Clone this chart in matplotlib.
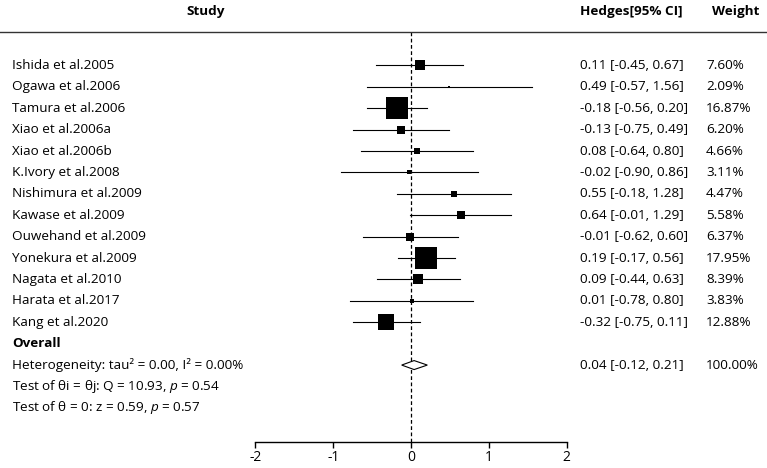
import matplotlib
matplotlib.use("Agg")
import matplotlib.pyplot as plt
from matplotlib.patches import Polygon

plt.rcParams["font.family"] = ["Open Sans", "DejaVu Sans"]
plt.rcParams["mathtext.fontset"] = "custom"
plt.rcParams["mathtext.rm"] = "Open Sans"
plt.rcParams["mathtext.it"] = "Open Sans:italic"

studies = ["Ishida et al.2005", "Ogawa et al.2006", "Tamura et al.2006", "Xiao et al.2006a",
           "Xiao et al.2006b", "K.Ivory et al.2008", "Nishimura et al.2009", "Kawase et al.2009",
           "Ouwehand et al.2009", "Yonekura et al.2009", "Nagata et al.2010", "Harata et al.2017",
           "Kang et al.2020"]
hedges = [0.11, 0.49, -0.18, -0.13, 0.08, -0.02, 0.55, 0.64, -0.01, 0.19, 0.09, 0.01, -0.32]
ci_low = [-0.45, -0.57, -0.56, -0.75, -0.64, -0.90, -0.18, -0.01, -0.62, -0.17, -0.44, -0.78, -0.75]
ci_high = [0.67, 1.56, 0.20, 0.49, 0.80, 0.86, 1.28, 1.29, 0.60, 0.56, 0.63, 0.80, 0.11]
weights = [7.60, 2.09, 16.87, 6.20, 4.66, 3.11, 4.47, 5.58, 6.37, 17.95, 8.39, 3.83, 12.88]

overall = (0.04, -0.12, 0.21)
stats_lines = ["Heterogeneity: tau² = 0.00, I² = 0.00%",
               "Test of θi = θj: Q = 10.93, $p$ = 0.54",
               "Test of θ = 0: z = 0.59, $p$ = 0.57"]
xticks = [-2, -1, 0, 1, 2]

fs = 9.7
fig = plt.figure(figsize=(7.67, 4.68), dpi=100)
ax = fig.add_axes([0, 0, 1, 1])
ax.set_xlim(-411 / 77.75, 356 / 77.75)
ax.set_ylim(18.81, -3.06)

x_name, x_est, x_w = -5.135, 2.175, 3.795

# header
ax.text(-2.64, -2.5, "Study", ha="center", va="center", fontsize=fs, fontweight="bold")
ax.text(2.83, -2.5, "Hedges[95% CI]", ha="center", va="center", fontsize=fs, fontweight="bold")
ax.text(4.17, -2.5, "Weight", ha="center", va="center", fontsize=fs, fontweight="bold")
ax.axhline(-1.57, color="#333333", lw=1)

# reference line
ax.plot([0, 0], [-1.57, 17.59], color="black", lw=0.9, ls=(0, (3, 2)), zorder=1)

n = len(studies)
for i in range(n):
    ax.plot([ci_low[i], ci_high[i]], [i, i], color="black", lw=0.8, zorder=2)
    side = 1.28 * weights[i] * 0.72
    ax.plot(hedges[i], i, marker="s", ms=side, color="black", mew=0, zorder=3)
    ax.text(x_name, i, studies[i], ha="left", va="center", fontsize=fs)
    ax.text(x_est, i, f"{hedges[i]:.2f} [{ci_low[i]:.2f}, {ci_high[i]:.2f}]",
            ha="left", va="center", fontsize=fs)
    ax.text(x_w, i, f"{weights[i]:.2f}%", ha="left", va="center", fontsize=fs)

ax.text(x_name, n, "Overall", ha="left", va="center", fontsize=fs, fontweight="bold")

yd = n + 1
est, lo, hi = overall
h = 0.21
ax.add_patch(Polygon([(lo, yd), (est, yd - h), (hi, yd), (est, yd + h)],
                     closed=True, facecolor="white", edgecolor="black", lw=0.8, zorder=3))
ax.text(x_est, yd, f"{est:.2f} [{lo:.2f}, {hi:.2f}]", ha="left", va="center", fontsize=fs)
ax.text(x_w, yd, "100.00%", ha="left", va="center", fontsize=fs)
for k, s in enumerate(stats_lines):
    ax.text(x_name, yd + k, s, ha="left", va="center", fontsize=fs)

# x axis
for sp in ["top", "left", "right"]:
    ax.spines[sp].set_visible(False)
ax.spines["bottom"].set_position(("data", 17.59))
ax.spines["bottom"].set_bounds(-2, 2)
ax.spines["bottom"].set_linewidth(1)
ax.set_xticks(xticks)
ax.set_xticklabels([str(t) for t in xticks])
ax.tick_params(axis="x", direction="out", length=4, width=1, labelsize=fs + 0.3, pad=2)
ax.set_yticks([])

fig.savefig("out.png", dpi=100)
